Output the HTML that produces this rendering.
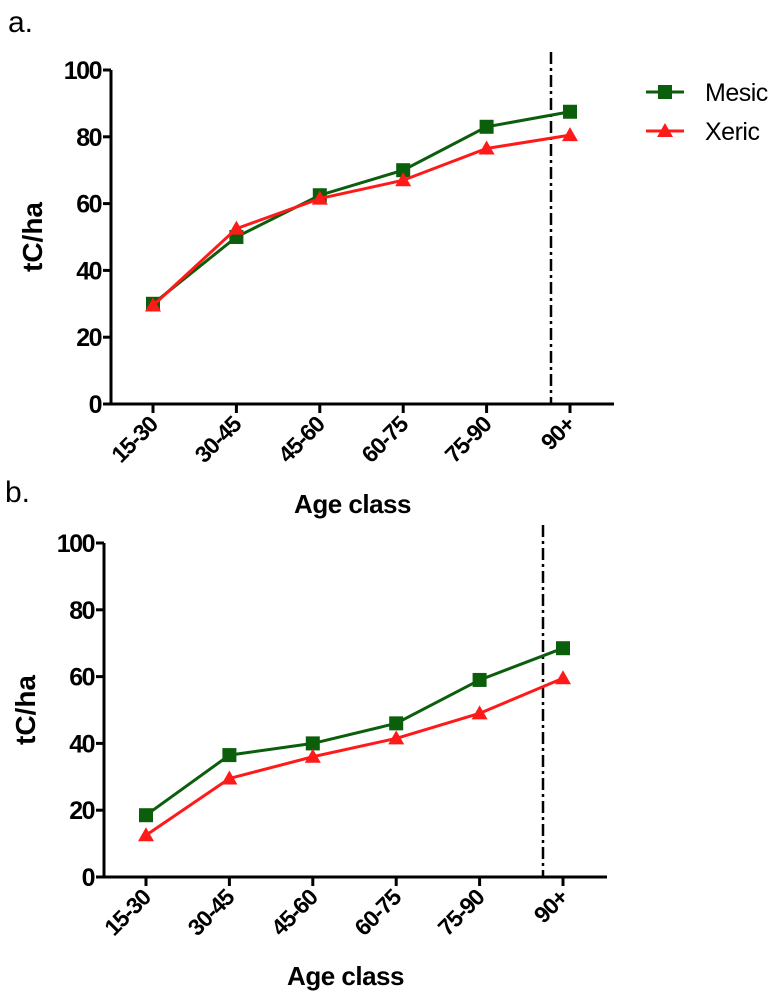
<!DOCTYPE html>
<html><head><meta charset="utf-8"><style>
body{margin:0;background:#fff;width:779px;height:1000px;overflow:hidden}
svg{font-family:"Liberation Sans",Arial,sans-serif;font-weight:bold}
</style></head><body>
<svg width="779" height="1000" id="fig"></svg>
<script>
const categories=["15-30","30-45","45-60","60-75","75-90","90+"];
const yTicks=[0,20,40,60,80,100];
const mesicA=[30,50,62.5,70,83,87.5];
const xericA=[29.5,52.5,61.5,67,76.5,80.5];
const mesicB=[18.5,36.5,40,46,59,68.5];
const xericB=[12.5,29.5,36,41.5,49,59.5];
const NS="http://www.w3.org/2000/svg";
const svg=document.getElementById('fig');
function mk(tag,at,parent){const e=document.createElementNS(NS,tag);for(const k in at)e.setAttribute(k,at[k]);(parent||svg).appendChild(e);return e;}
function panel(p){
 const g=mk('g',{});
 
 
 const x=i=>p.x0+i*p.dx, y=v=>p.y0-(v/100)*(p.y0-p.y100);
 const lab=mk('text',{x:p.lx,y:p.ly,'font-size':30,'font-weight':'normal',fill:'#000'},g);lab.textContent=p.label;
 
 const ax=mk('path',{d:`M${p.ax},${y(100)} V${p.y0} H${p.axEnd}`,stroke:'#000','stroke-width':3,fill:'none'},g);
 
 yTicks.forEach(t=>{mk('line',{x1:p.ax-8,x2:p.ax,y1:y(t),y2:y(t),stroke:'#000','stroke-width':3},g);
  const tx=mk('text',{x:p.ax-10,y:y(t)+9,'text-anchor':'end','font-size':25,'letter-spacing':-1.5},g);tx.textContent=t;
  });
 categories.forEach((c,i)=>{mk('line',{x1:x(i),x2:x(i),y1:p.y0,y2:p.y0+9,stroke:'#000','stroke-width':3},g);
  const tx=mk('text',{x:x(i)+6,y:p.y0+22,'text-anchor':'end','font-size':23,'letter-spacing':-1,transform:`rotate(-45 ${x(i)+6} ${p.y0+22})`},g);tx.textContent=c;
  });
 const yt=mk('text',{x:0,y:0,'text-anchor':'middle','font-size':28,transform:`translate(${p.ax-69},${y(50)}) rotate(-90)`},g);yt.textContent='tC/ha';
 
 const xt=mk('text',{x:(p.ax+p.axEnd)/2-10,y:p.xty,'text-anchor':'middle','font-size':26,'letter-spacing':-0.5},g);xt.textContent='Age class';
 
 const dl=mk('line',{x1:p.dash,x2:p.dash,y1:p.dashTop,y2:p.y0,stroke:'#000','stroke-width':2.5,'stroke-dasharray':'12,4,3,4'},g);
 
 [[p.m,'#0b5e0b','sq','mesic'],[p.xr,'#ff1a1a','tri','xeric']].forEach(([vals,col,sh,nm])=>{
  const l=mk('polyline',{points:vals.map((v,i)=>x(i)+','+y(v)).join(' '),stroke:col,'stroke-width':3,fill:'none'},g);
  
  vals.forEach((v,i)=>{let e;const cx=x(i),cy=y(v);
   if(sh==='sq')e=mk('rect',{x:cx-7,y:cy-7,width:14,height:14,fill:col},g);
   else e=mk('polygon',{points:`${cx},${cy-8} ${cx-8},${cy+6} ${cx+8},${cy+6}`,fill:col},g);
   });
 });
}
panel({name:'panel-a',label:'a.',lx:8,ly:32,x0:153,dx:83.4,y0:404,y100:70,ax:111,axEnd:614,dash:551,dashTop:52,xty:513,m:mesicA,xr:xericA});
panel({name:'panel-b',label:'b.',lx:5,ly:502,x0:146,dx:83.4,y0:877,y100:543,ax:104,axEnd:607,dash:543,dashTop:525,xty:985,m:mesicB,xr:xericB});
const lg=mk('g',{});


[['Mesic','#0b5e0b','sq',92],['Xeric','#ff1a1a','tri',131]].forEach(([t,c,s,yy])=>{
 mk('line',{x1:646,x2:684,y1:yy,y2:yy,stroke:c,'stroke-width':3},lg);
 if(s==='sq')mk('rect',{x:658,y:yy-7,width:14,height:14,fill:c},lg);
 else mk('polygon',{points:`665,${yy-8} 657,${yy+6} 673,${yy+6}`,fill:c},lg);
 const tx=mk('text',{x:705,y:yy+9,'font-size':25,'font-weight':'normal','letter-spacing':-0.5},lg);tx.textContent=t;
 
});
</script>
</body></html>
